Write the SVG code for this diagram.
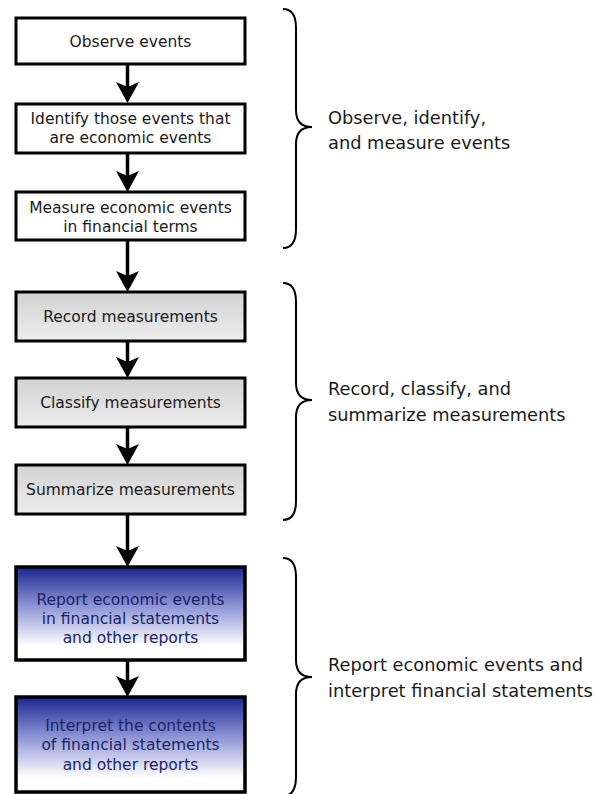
<svg xmlns="http://www.w3.org/2000/svg" width="595" height="794" viewBox="0 0 595 794">
<defs>
<linearGradient id="gray" x1="0" y1="0" x2="0" y2="1">
<stop offset="0" stop-color="#d2d2d2"/>
<stop offset="1" stop-color="#ededed"/>
</linearGradient>
<linearGradient id="blue" x1="0" y1="0" x2="0" y2="1">
<stop offset="0" stop-color="#1a2690"/>
<stop offset="0.4" stop-color="#8890d2"/>
<stop offset="0.85" stop-color="#ffffff"/>
<stop offset="1" stop-color="#ffffff"/>
</linearGradient>
<marker id="ah" viewBox="0 0 21 23" refX="11" refY="11.5" markerWidth="21" markerHeight="23" markerUnits="userSpaceOnUse" orient="auto">
<path d="M0,0 L21,11.5 L0,23 L5,11.5 Z" fill="#000"/>
</marker>
</defs>
<style>
.box{stroke:#000;stroke-width:3}
.white{fill:#fff}
.grayf{fill:url(#gray)}
.bluef{fill:url(#blue);stroke-width:3.5}
.t{font-family:"DejaVu Sans",Verdana,sans-serif;font-size:15.5px;fill:#1a1a1a;text-anchor:middle}
.tb{fill:#1a2468}
.lab{font-family:"DejaVu Sans",Verdana,sans-serif;font-size:17.8px;fill:#1a1a1a}
.con{stroke:#000;stroke-width:3.5;fill:none;marker-end:url(#ah)}
.brace{stroke:#000;stroke-width:2;fill:none}
</style>
<g id="n1"><rect class="box white" x="16" y="18" width="229" height="46"/><text class="t" x="130.5" y="47">Observe events</text></g>
<g id="n2"><rect class="box white" x="16" y="104" width="229" height="49"/><text class="t" x="130.5" y="124">Identify those events that</text><text class="t" x="130.5" y="143">are economic events</text></g>
<g id="n3"><rect class="box white" x="16" y="192" width="229" height="48"/><text class="t" x="130.5" y="213">Measure economic events</text><text class="t" x="130.5" y="232">in financial terms</text></g>
<g id="n4"><rect class="box grayf" x="16" y="292" width="229" height="49"/><text class="t" x="130.5" y="322">Record measurements</text></g>
<g id="n5"><rect class="box grayf" x="16" y="378" width="229" height="49"/><text class="t" x="130.5" y="408">Classify measurements</text></g>
<g id="n6"><rect class="box grayf" x="16" y="465" width="229" height="49"/><text class="t" x="130.5" y="495">Summarize measurements</text></g>
<g id="n7"><rect class="box bluef" x="16" y="567" width="229" height="93"/><text class="t tb" x="130.5" y="605">Report economic events</text><text class="t tb" x="130.5" y="624">in financial statements</text><text class="t tb" x="130.5" y="643">and other reports</text></g>
<g id="n8"><rect class="box bluef" x="16" y="697" width="229" height="95"/><text class="t tb" x="130.5" y="731">Interpret the contents</text><text class="t tb" x="130.5" y="750">of financial statements</text><text class="t tb" x="130.5" y="770">and other reports</text></g>
<g id="connectors">
<line class="con" x1="127.5" y1="65" x2="127.5" y2="93"/>
<line class="con" x1="127.5" y1="154" x2="127.5" y2="182"/>
<line class="con" x1="127.5" y1="241" x2="127.5" y2="282"/>
<line class="con" x1="127.5" y1="342" x2="127.5" y2="368"/>
<line class="con" x1="127.5" y1="428" x2="127.5" y2="455"/>
<line class="con" x1="127.5" y1="515" x2="127.5" y2="557"/>
<line class="con" x1="127.5" y1="661" x2="127.5" y2="687"/>
</g>
<g id="brace1"><path class="brace" d="M283,9 Q296,9 296,28 L296,110 Q296,127 312,127 Q296,127 296,144 L296,229 Q296,248 283,248"/><text class="lab" x="328" y="124">Observe, identify,</text><text class="lab" x="328" y="149">and measure events</text></g>
<g id="brace2"><path class="brace" d="M283,283 Q296,283 296,302 L296,383 Q296,400 312,400 Q296,400 296,417 L296,501 Q296,520 283,520"/><text class="lab" x="328" y="395">Record, classify, and</text><text class="lab" x="328" y="421">summarize measurements</text></g>
<g id="brace3"><path class="brace" d="M283,558 Q296,558 296,577 L296,660 Q296,677 312,677 Q296,677 296,694 L296,777 Q296,796 283,796"/><text class="lab" x="328" y="671">Report economic events and</text><text class="lab" x="328" y="697">interpret financial statements</text></g>
</svg>
